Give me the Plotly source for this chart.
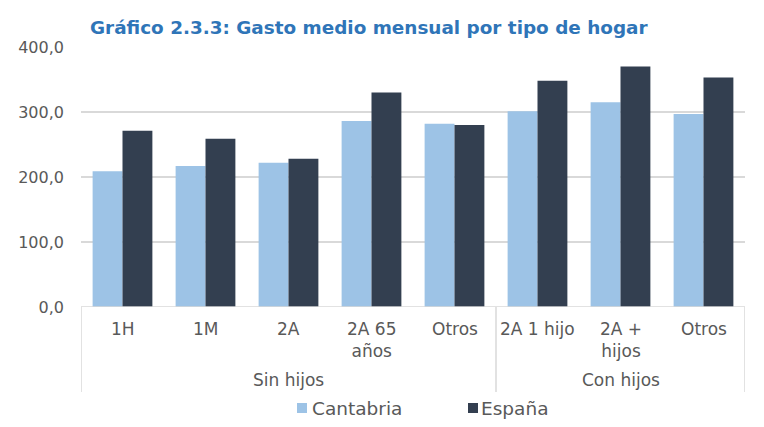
import plotly.graph_objects as go

groups = ["Sin hijos", "Con hijos"]
group_sizes = [5, 3]
categories = ["1H", "1M", "2A", "2A 65<br>años", "Otros", "2A 1 hijo", "2A +<br>hijos", "Otros"]
series_names = ["Cantabria", "España"]
cantabria = [209, 217, 222, 286, 282, 301, 315, 297]
espana = [271, 259, 228, 330, 280, 348, 370, 353]

font_fam = "'DejaVu Sans', sans-serif"
grey = "#595959"
line_grey = "#D9D9D9"
colors = ["#9DC3E6", "#333F50"]

# page has an 8px body margin: figure drawn from (8, 8)
OFF = 8
W, H = 756, 419
L, R, T, B = 73, 19, 39, 120
PH = H - T - B
PW = W - L - R

def px_x(px):  # absolute page x -> plot-paper fraction
    return (px - OFF - L) / PW

def px_y(py):  # absolute page y -> plot-paper fraction
    return 1 - (py - OFF - T) / PH

xpos = list(range(len(categories)))

fig = go.Figure()
for name, vals, col in zip(series_names, [cantabria, espana], colors):
    fig.add_trace(go.Bar(x=xpos, y=vals, name=name, marker_color=col,
                         marker_line_width=0, showlegend=False))

annotations = []
for i, c in enumerate(categories):
    annotations.append(dict(x=i, xref="x", y=px_y(317), yref="paper", text=c, showarrow=False,
                            xanchor="center", yanchor="top", align="center",
                            font=dict(size=17, color=grey, family=font_fam)))

edges = [-0.5]
start = 0
for g, n in zip(groups, group_sizes):
    mid = start + (n - 1) / 2
    annotations.append(dict(x=mid, xref="x", y=px_y(380), yref="paper", text=g, showarrow=False,
                            xanchor="center", yanchor="middle",
                            font=dict(size=17, color=grey, family=font_fam)))
    start += n
    edges.append(start - 0.5)

shapes = [dict(type="line", xref="x", yref="paper", x0=e, x1=e, y0=0, y1=px_y(392),
               line=dict(color=line_grey, width=1.5)) for e in edges]
shapes.append(dict(type="line", xref="paper", yref="y", x0=0, x1=1, y0=0, y1=0,
                   line=dict(color=line_grey, width=1.5)))
# faint frame line at right edge
shapes.append(dict(type="line", xref="paper", yref="paper", x0=px_x(757.5), x1=px_x(757.5),
                   y0=px_y(0), y1=px_y(427), line=dict(color="#E1EAF4", width=1.5)))

# legend (drawn manually)
legend_sq_x = [297, 468]
legend_txt_x = [310, 479]
legend_y = 408
for name, col, sx, tx in zip(series_names, colors, legend_sq_x, legend_txt_x):
    shapes.append(dict(type="rect", xref="paper", yref="paper",
                       x0=px_x(sx), x1=px_x(sx + 10), y0=px_y(legend_y + 5), y1=px_y(legend_y - 5),
                       fillcolor=col, line=dict(width=0)))
    annotations.append(dict(x=px_x(tx), xref="paper", y=px_y(legend_y), yref="paper", text=name,
                            showarrow=False, xanchor="left", yanchor="middle",
                            font=dict(size=18.5, color=grey, family=font_fam)))

fig.update_layout(
    width=W, height=H,
    margin=dict(l=L, r=R, t=T, b=B),
    paper_bgcolor="white", plot_bgcolor="white",
    barmode="group", bargap=0.28, bargroupgap=0,
    separators=", ",
    showlegend=False,
    font=dict(family=font_fam, size=16, color=grey),
    title=dict(text="<b>Gráfico 2.3.3: Gasto medio mensual por tipo de hogar</b>",
               x=82 / W, xanchor="left", y=1 - 20 / H, yanchor="middle",
               font=dict(family=font_fam, size=18.4, color="#2F75B8")),
    yaxis=dict(range=[0, 400], dtick=100, tickformat=".1f", showgrid=True,
               gridcolor=line_grey, gridwidth=1.5, zeroline=False, automargin=False,
               ticks="", ticklen=0, ticklabelstandoff=16, tickfont=dict(size=16, color=grey)),
    xaxis=dict(range=[-0.5, len(categories) - 0.5], showticklabels=False, showline=False,
               showgrid=False, zeroline=False, automargin=False, ticks=""),
    annotations=annotations,
    shapes=shapes,
)

fig.write_html("out.html")
